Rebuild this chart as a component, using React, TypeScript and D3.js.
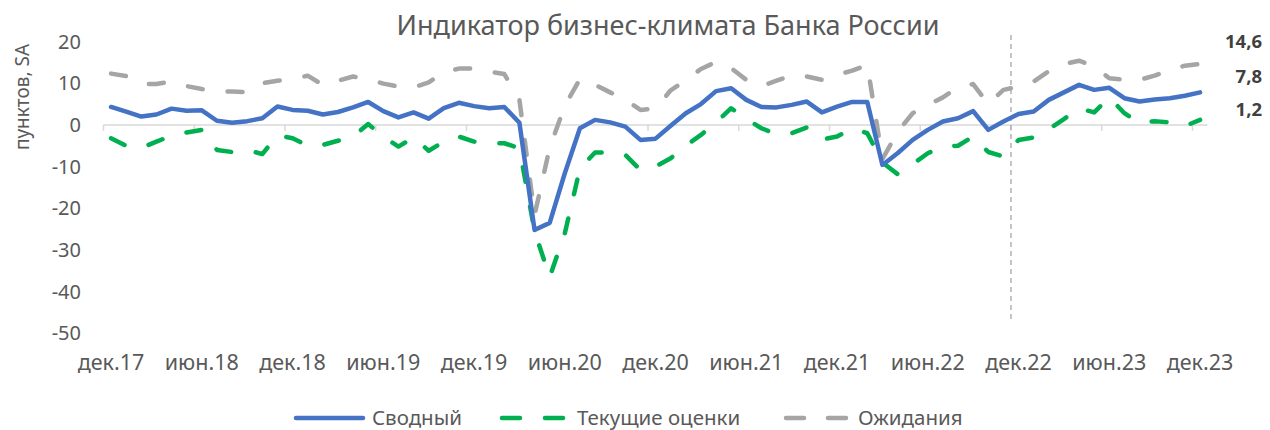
import React from "react";
import * as d3 from "d3";

const W = 1270;
const H = 430;

const monthNames = ["янв", "фев", "мар", "апр", "май", "июн", "июл", "авг", "сен", "окт", "ноя", "дек"];
const years = ["17", "18", "19", "20", "21", "22", "23"];
// Categories: dec.17 … dec.23 (73 months)
const categories: string[] = [
  "дек.17",
  ...years.slice(1).flatMap((y) => monthNames.map((m) => `${m}.${y}`)),
];

const tickLabels = ["дек.17", "июн.18", "дек.18", "июн.19", "дек.19", "июн.20", "дек.20", "июн.21", "дек.21", "июн.22", "дек.22", "июн.23", "дек.23"];
const yTicks = [20, 10, 0, -10, -20, -30, -40, -50];

const svodny = [
  4.3, 3.2, 2.0, 2.5, 3.9, 3.4, 3.5, 1.0, 0.5, 0.9, 1.6, 4.4,
  3.6, 3.4, 2.5, 3.1, 4.2, 5.5, 3.3, 1.8, 3.0, 1.5, 4.0, 5.3,
  4.5, 4.0, 4.3, 0.5, -25.2, -23.5, -11.6, -0.8, 1.2, 0.6, -0.4, -3.6,
  -3.3, -0.2, 2.8, 5.0, 8.1, 8.8, 6.0, 4.3, 4.2, 4.8, 5.6, 3.0,
  4.4, 5.5, 5.5, -9.6, -6.8, -3.6, -1.2, 0.8, 1.6, 3.3, -1.2, 0.8,
  2.6, 3.2, 6.0, 7.8, 9.6, 8.4, 8.9, 6.4, 5.6, 6.1, 6.4, 7.0,
  7.8,
];

const tekushie = [
  -3.2, -5.0, -5.5, -4.0, -2.6, -1.8, -1.2, -6.0, -6.5, -6.0, -7.0, -2.5,
  -3.2, -5.0, -4.8, -3.8, -2.8, 0.2, -2.8, -5.2, -3.0, -6.2, -4.0, -2.8,
  -4.0, -4.4, -4.4, -5.6, -25.5, -36.5, -26.0, -10.5, -6.6, -6.6, -7.2, -10.8,
  -10.0, -8.0, -5.0, -2.4, 0.6, 4.0, 1.4, -0.8, -2.2, -2.0, -0.6, -3.5,
  -2.8, -0.8, -2.0, -9.0, -11.8, -9.4, -6.8, -5.2, -5.0, -2.8, -6.5, -7.6,
  -3.6, -3.0, -1.0, 1.4, 4.0, 3.0, 6.6, 2.8, 0.4, 0.9, 0.6, -0.3,
  1.2,
];

const ozhidaniya = [
  12.3, 11.7, 9.8, 9.8, 10.4, 9.3, 8.6, 8.0, 8.0, 7.8, 10.0, 10.6,
  11.0, 11.8, 9.6, 10.6, 11.6, 11.0, 9.9, 9.2, 9.0, 10.2, 12.6, 13.5,
  13.5, 12.8, 12.2, 6.0, -21.6, -5.5, 4.6, 11.0, 9.6, 7.8, 6.0, 3.6,
  3.9, 8.3, 10.7, 13.4, 15.1, 13.6, 10.8, 9.3, 10.6, 11.9, 11.6, 10.8,
  12.0, 13.0, 14.4, -8.2, -1.7, 2.8, 4.8, 6.6, 9.0, 9.8, 5.0, 8.4,
  9.2, 10.4, 12.9, 14.6, 15.4, 14.0, 11.2, 10.8, 10.8, 11.8, 13.2, 14.2,
  14.6,
];

const lastLabels = ["14,6", "7,8", "1,2"];
const dividerCategory = "дек.22";

const FONT = "'Noto Sans', 'Open Sans', sans-serif";
const TEXT = "#595959";
const BLUE = "#4472C4";
const GREEN = "#00B050";
const GRAY = "#A5A5A5";

export default function App() {
  const x = d3.scaleBand<string>().domain(categories).range([103.5, 1207.6]).padding(0);
  const bw = x.bandwidth();
  const cx = (c: string) => (x(c) as number) + bw / 2;
  const y = d3.scaleLinear().domain([-50, 20]).range([333.4, 41.5]);

  const line = d3
    .line<number>()
    .x((_, i) => cx(categories[i]))
    .y((d) => y(d));

  const series = [
    { name: "Сводный", data: svodny, color: BLUE, dash: undefined as string | undefined },
    { name: "Текущие оценки", data: tekushie, color: GREEN, dash: "15 25" },
    { name: "Ожидания", data: ozhidaniya, color: GRAY, dash: "15 25" },
  ];

  const tickIdx = categories.map((c, i) => i).filter((i) => i % 6 === 0);
  const divX = x(dividerCategory) as number;

  const labelYs = [42, 77, 110];

  const legendItems = [
    { name: "Сводный", color: BLUE, dash: undefined as string | undefined, x0: 296, x1: 363, tx: 372 },
    { name: "Текущие оценки", color: GREEN, dash: "18 25", x0: 502, x1: 563, tx: 577 },
    { name: "Ожидания", color: GRAY, dash: "18 24", x0: 786, x1: 846, tx: 858 },
  ];

  return (
    <svg width={W} height={H} style={{ display: "block", position: "absolute", left: 0, top: 0 }} fontFamily={FONT}>
      <rect x={0} y={0} width={W} height={H} fill="#fff" />
      <text x={668} y={35} textAnchor="middle" fontSize={27} fill={TEXT}>
        Индикатор бизнес-климата Банка России
      </text>
      <text transform={`translate(29,${97}) rotate(-90)`} textAnchor="middle" fontSize={19} fill={TEXT}>
        пунктов, SA
      </text>
      {yTicks.map((t) => (
        <text key={t} x={81} y={y(t)} dy="0.35em" textAnchor="end" fontSize={20} fill={TEXT}>
          {t}
        </text>
      ))}
      <line x1={103.5} x2={1207.6} y1={y(0)} y2={y(0)} stroke="#D9D9D9" strokeWidth={1.5} />
      {tickIdx.map((i) => (
        <line key={i} x1={x(categories[i])} x2={x(categories[i])} y1={y(0)} y2={y(0) + 6} stroke="#D9D9D9" strokeWidth={1.5} />
      ))}
      {tickLabels.map((t) => (
        <text key={t} x={cx(t)} y={370} textAnchor="middle" fontSize={21.5} fill={TEXT}>
          {t}
        </text>
      ))}
      <line x1={divX} x2={divX} y1={35} y2={321} stroke="#A6A6A6" strokeWidth={1.3} strokeDasharray="5 4" />
      {series
        .slice()
        .reverse()
        .map((s) => (
          <path
            key={s.name}
            d={line(s.data) || ""}
            fill="none"
            stroke={s.color}
            strokeWidth={4.5}
            strokeLinecap="round"
            strokeLinejoin="round"
            strokeDasharray={s.dash}
          />
        ))}
      {lastLabels.map((l, i) => (
        <text key={l} x={1262} y={labelYs[i]} dy="0.35em" textAnchor="end" fontSize={18.5} fontWeight="bold" fill="#404040">
          {l}
        </text>
      ))}
      {legendItems.map((it) => (
        <g key={it.name}>
          <line x1={it.x0} x2={it.x1} y1={418} y2={418} stroke={it.color} strokeWidth={4.5} strokeLinecap="round" strokeDasharray={it.dash} />
          <text x={it.tx} y={418} dy="0.35em" fontSize={20.5} fill={TEXT}>
            {it.name}
          </text>
        </g>
      ))}
    </svg>
  );
}
